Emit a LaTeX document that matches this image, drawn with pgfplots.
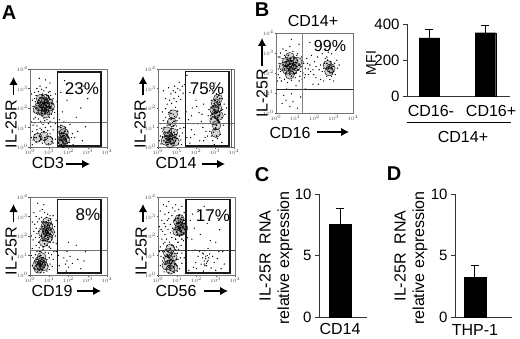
\documentclass[border=0pt]{standalone}
\usepackage{pgfplots}
\pgfplotsset{compat=1.18}
\usepackage{fontspec}
\setmainfont{Liberation Sans}
\usetikzlibrary{arrows.meta}
\newcommand{\fs}[1]{\fontsize{#1}{#1}\selectfont}
\pgfplotsset{
  flow/.style={scale only axis, width=77pt, height=78pt, xmin=0, xmax=100, ymin=0, ymax=100,
    axis line style={black!55, line width=0.7pt}, clip=true,
    xtick={0,25,50,75,100}, ytick={0,25,50,75,100},
    xticklabels={$10^0$,$10^1$,$10^2$,$10^3$,$10^4$},
    yticklabels={$10^0$,$10^1$,$10^2$,$10^3$,$10^4$},
    tick label style={font=\fs{3}, black!70, inner sep=0.6pt},
    tick align=outside, major tick length=1.5pt, tick style={black!70, line width=0.3pt},
    xtick pos=bottom, ytick pos=left},
  sparse/.style={only marks, mark=*, mark size=0.4pt, mark options={draw=none, fill=black!75}, forget plot},
  dense/.style={only marks, mark=*, mark size=0.6pt, mark options={draw=none, fill=black, fill opacity=0.75}, forget plot},
  blob/.style={only marks, mark=*, mark size=4.5pt, mark options={draw=none, fill=black, fill opacity=0.17}, forget plot},
  barax/.style={scale only axis, axis lines=left, axis line style={-, line width=0.6pt, black!80},
    tick align=outside, major tick length=4pt, tick style={line width=0.6pt, black!80},
    ymin=0, clip=false, /pgf/number format/assume math mode=true,
    tick label style={font=\fs{15}}, x tick style={draw=none}, major x tick style={draw=none}},
  thebar/.style={ybar, fill=black, draw=black, error bars/y dir=plus, error bars/y explicit,
    error bars/error bar style={black, line width=1pt}, error bars/error mark options={rotate=90, mark size=4pt, line width=1pt, black}},
}
\tikzset{arr/.style={-{Latex[length=8pt,width=8.5pt]}, line width=1.2pt}, gate/.style={line width=1.1pt, black!90},
  hl/.style={line width=0.6pt, black!55}}
\begin{document}
\begin{tikzpicture}
\path[use as bounding box] (0pt,0pt) rectangle (520pt,338pt);

% ---------- A1 CD3
\begin{axis}[flow, at={(30pt,191pt)}, anchor=south west, width=77pt]
\addplot[blob] coordinates {(12,52)(16,46)(16,58)(20,52)(24,47)(24,57)(20,62)(20,43)(26,52)(14,62)(10,48)(42,8)(43,13)(44,18)(41,22)(46,10)(43,5)(10,12)(18,14)(24,8)};
\addplot[sparse] coordinates {(3,60)(5,45)(6,70)(4,52)(8,66)(7,38)(9,75)(11,71)(13,78)(15,74)(18,72)(21,76)(24,70)(27,66)(29,60)(31,55)(30,48)(28,42)(25,38)(22,35)(18,37)(14,33)(11,36)(6,31)(4,28)(9,27)(13,24)(17,29)(20,25)(24,30)(27,26)(30,22)(3,20)(6,16)(10,18)(14,13)(18,19)(22,14)(26,17)(29,11)(4,9)(8,6)(12,8)(16,5)(20,9)(24,4)(28,7)(3,3)(33,30)(36,26)(38,35)(40,28)(44,32)(46,25)(49,20)(52,29)(55,17)(47,9)(51,6)(54,12)(36,42)(42,45)(48,60)(40,70)(45,85)(58,12)(62,20)(68,8)(72,26)(60,38)(66,50)(75,62)(35,58)(33,68)(26,82)(20,86)(12,88)(70,78)(30,5)(33,10)(39,14)(37,5)(41,3)(56,3)(7,58)(10,42)(16,43)(23,44)(27,52)(24,63)(16,68)(5,36)(2,12)(19,56)(12,60)(8,50)(15,31)(31,37)(2,32)(2,68)(26,33)(38,20)(43,17)(6,12)(9,22)(12,14)(15,22)(19,12)(23,21)(27,13)(6,62)(9,44)(32,44)(30,62)(26,71)(13,41)(19,34)};
\addplot[dense] coordinates {(12,52)(14,58)(15,47)(17,62)(18,54)(19,49)(20,57)(21,63)(22,51)(23,59)(24,46)(25,55)(26,61)(16,43)(10,56)(11,47)(13,63)(20,45)(22,66)(27,50)(18,51)(15,54)(21,53)(19,60)(24,52)(17,56)(14,51)(23,56)(9,50)(28,56)(40,12)(42,8)(44,15)(46,11)(41,18)(43,5)(45,20)(47,7)(39,9)(48,16)(44,10)(42,14)(46,4)(40,25)(50,12)(8,12)(14,10)(18,20)(16,50)(13,55)(20,48)(22,61)(25,50)(17,46)(11,60)(24,65)(19,43)(16,66)};
\end{axis}
% ---------- A2 CD14
\begin{axis}[flow, at={(158pt,191pt)}, anchor=south west, width=76pt]
\addplot[blob] coordinates {(10,8)(14,14)(18,10)(20,18)(12,20)(22,7)(16,5)(18,32)(20,42)(74,34)(76,42)(78,50)(76,56)(79,62)(74,48)(80,40)(77,28)(76,18)};
\addplot[sparse] coordinates {(3,30)(7,34)(10,38)(13,32)(16,36)(19,31)(22,39)(25,34)(28,37)(6,45)(10,49)(14,44)(17,47)(20,42)(23,51)(26,46)(12,55)(15,60)(18,56)(21,62)(24,58)(27,65)(30,61)(17,68)(20,72)(23,70)(26,75)(29,73)(32,78)(33,69)(35,80)(36,64)(22,78)(28,83)(37,45)(40,35)(44,22)(48,16)(52,30)(55,8)(59,25)(62,12)(66,40)(60,55)(50,60)(45,50)(42,70)(56,75)(64,80)(54,44)(38,12)(42,5)(47,30)(58,42)(68,20)(72,8)(74,3)(70,14)(73,19)(76,25)(78,11)(82,16)(84,6)(86,28)(80,31)(72,30)(68,72)(71,78)(75,82)(80,76)(85,70)(87,55)(88,42)(70,60)(67,48)(66,30)(3,14)(2,8)(30,9)(32,18)(34,25)(29,24)(27,4)(31,3)(90,50)(10,62)(7,72)(38,92)(14,76)(26,22)(28,14)(5,24)(4,4)(8,25)(12,28)(24,27)(44,40)(51,52)(43,12)(57,33)(63,20)(60,8)(65,14)(72,72)(83,62)(84,38)(69,40)(85,48)};
\addplot[dense] coordinates {(8,8)(10,14)(12,6)(13,18)(14,10)(15,21)(16,7)(17,14)(18,17)(19,10)(20,5)(21,19)(22,12)(23,8)(24,16)(11,11)(9,19)(15,13)(18,24)(25,11)(6,13)(17,4)(13,3)(20,27)(16,29)(18,36)(21,33)(17,43)(70,36)(72,42)(74,48)(75,38)(76,53)(77,44)(78,58)(79,34)(80,50)(81,41)(82,55)(73,30)(75,60)(78,64)(80,66)(77,28)(83,47)(71,50)(76,46)(79,40)(74,56)(81,62)(75,22)(77,14)(12,14)(19,15)(16,11)(10,6)(22,16)(73,52)(78,36)(77,68)(79,54)(74,44)(81,32)};
\end{axis}
% ---------- A3 CD19
\begin{axis}[flow, at={(30pt,63pt)}, anchor=south west]
\addplot[blob] coordinates {(18,42)(20,50)(22,56)(24,62)(20,62)(24,48)(22,68)(17,54)(26,55)(9,12)(12,18)(14,12)(16,17)(11,8)(15,23)(18,11)};
\addplot[sparse] coordinates {(3,12)(4,22)(3,34)(4,45)(5,56)(3,68)(5,80)(8,75)(10,68)(8,60)(7,48)(8,38)(9,30)(6,8)(6,18)(11,42)(12,35)(13,82)(16,84)(19,80)(23,78)(27,72)(30,76)(32,62)(33,50)(34,40)(31,30)(28,26)(25,22)(23,12)(25,7)(29,11)(22,5)(18,3)(14,3)(10,4)(34,70)(18,90)(10,92)(37,25)(44,22)(46,14)(48,18)(50,10)(52,24)(47,5)(55,15)(62,20)(70,18)(48,30)(60,38)(72,30)(50,42)(66,8)(38,12)(9,53)(12,72)(15,74)(7,26)(30,20)(32,55)(28,45)(29,65)(27,34)(14,30)(20,29)(17,33)(34,30)(6,65)(2,50)(2,25)(12,48)(13,60)(15,68)(11,56)(29,55)(30,42)(26,76)(21,74)(12,30)(24,28)(22,20)(26,14)};
\addplot[dense] coordinates {(15,50)(17,56)(18,44)(19,62)(20,50)(21,68)(22,38)(23,56)(24,46)(25,63)(26,52)(27,58)(22,60)(20,44)(18,53)(24,70)(16,62)(26,42)(28,48)(21,54)(23,48)(25,36)(19,40)(27,66)(17,36)(8,12)(9,20)(10,8)(11,16)(12,24)(13,11)(14,18)(15,7)(16,14)(17,22)(18,10)(19,17)(20,13)(12,6)(10,14)(14,25)(23,64)(20,58)(24,54)(16,44)(18,68)(13,15)(15,20)};
\end{axis}
% ---------- A4 CD56
\begin{axis}[flow, at={(158pt,63pt)}, anchor=south west]
\addplot[blob] coordinates {(25,56)(28,62)(31,66)(30,56)(26,68)(33,60)(28,72)(11,12)(14,20)(17,14)(19,23)(13,28)(20,10)(16,7)(16,34)};
\addplot[sparse] coordinates {(3,12)(4,24)(3,36)(5,46)(4,58)(5,70)(3,82)(7,90)(9,78)(8,66)(9,52)(7,40)(8,30)(11,88)(14,80)(12,70)(13,58)(11,46)(15,42)(18,48)(14,94)(19,86)(23,90)(27,84)(31,88)(34,80)(35,70)(36,54)(33,44)(30,38)(27,33)(24,12)(28,8)(31,15)(25,5)(21,3)(14,3)(8,4)(34,22)(31,28)(37,36)(42,70)(45,78)(47,60)(52,84)(55,72)(60,88)(64,66)(70,80)(78,72)(80,58)(44,46)(55,52)(68,44)(75,42)(84,30)(86,14)(82,8)(40,6)(46,10)(49,16)(52,24)(50,8)(54,30)(56,14)(58,22)(59,5)(61,31)(63,12)(65,19)(67,27)(69,9)(71,24)(73,16)(75,6)(77,21)(79,30)(60,18)(62,24)(64,17)(61,12)(66,22)(58,28)(65,34)(48,32)(38,48)(16,65)(20,36)(24,36)(6,18)(10,14)(30,55)(28,76)(32,66)(37,62)(2,62)(2,30)(6,56)(10,62)(14,72)(18,76)(22,82)(16,54)(19,60)(12,38)(9,42)(6,30)(62,21)(64,25)(60,14)(59,27)(63,15)(26,20)(29,22)(22,28)};
\addplot[dense] coordinates {(22,58)(24,66)(25,52)(26,72)(27,60)(28,50)(29,68)(30,56)(31,74)(32,62)(33,53)(34,66)(23,46)(27,76)(35,58)(30,64)(28,58)(25,62)(33,70)(21,70)(26,42)(31,46)(36,72)(9,14)(10,24)(11,8)(12,18)(13,30)(14,12)(15,22)(16,6)(17,15)(18,27)(19,18)(20,10)(21,24)(22,14)(23,32)(16,34)(12,26)(18,38)(24,20)(25,28)(7,22)(27,66)(29,60)(24,55)(31,52)(15,18)(13,24)(17,20)};
\end{axis}
% ---------- B flow
\begin{axis}[flow, at={(276pt,225pt)}, anchor=south west, height=80pt]
\addplot[blob] coordinates {(10,58)(14,54)(14,64)(18,60)(22,54)(22,65)(26,58)(18,48)(18,70)(28,64)(67,60)(71,56)(69,52)};
\addplot[sparse] coordinates {(3,48)(4,62)(3,55)(5,70)(5,44)(6,75)(7,40)(9,80)(11,42)(13,78)(15,38)(18,83)(20,41)(22,77)(25,44)(28,74)(31,46)(33,70)(35,50)(36,62)(38,56)(40,68)(42,48)(44,60)(46,72)(48,54)(50,64)(52,44)(54,70)(56,78)(58,42)(60,74)(62,40)(64,80)(66,46)(68,76)(70,42)(72,74)(75,40)(77,48)(79,66)(80,56)(82,60)(52,58)(49,48)(45,52)(41,62)(37,44)(34,42)(30,40)(26,34)(14,30)(20,24)(22,14)(18,8)(13,16)(32,20)(38,30)(10,22)(8,12)(28,6)(58,86)(64,90)(44,88)(30,86)(20,92)(3,70)(2,40)(48,36)(55,36)(60,52)(66,70)(73,54)(76,62)(70,50)(63,62)(58,60)(56,54)(33,58)(35,64)(38,48)(42,55)(62,56)(64,68)(72,46)(75,52)(6,52)(8,68)(11,72)(27,72)(32,52)};
\addplot[dense] coordinates {(9,60)(11,55)(12,64)(13,50)(14,58)(15,67)(16,53)(17,61)(18,48)(19,57)(20,65)(21,52)(22,60)(23,69)(24,55)(25,63)(26,50)(27,58)(28,66)(29,54)(30,60)(16,72)(20,46)(18,62)(22,55)(14,64)(24,49)(17,55)(20,58)(66,62)(68,56)(69,52)(70,60)(71,64)(72,56)(73,50)(67,66)(74,58)(69,58)(16,60)(21,62)(12,58)(25,56)(19,68)(23,50)};
\end{axis}

% ---------- gates and gridlines
\draw[hl] (30pt,215.5pt)--(107pt,215.5pt);
\draw[hl] (158pt,215pt)--(234pt,215pt);
\draw[hl] (30pt,88pt)--(107pt,88pt);
\draw[hl,black!75] (158pt,88pt)--(235pt,88pt);
\draw[gate] (57.5pt,266pt) rectangle (101pt,192pt);
\draw[gate] (185.5pt,266.5pt) rectangle (229pt,192pt);
\draw[line width=1.6pt, black!65] (231.5pt,269pt)--(231.5pt,191pt);
\draw[gate] (57.5pt,138.5pt) rectangle (101pt,65pt);
\draw[gate] (186pt,138.5pt) rectangle (230pt,65pt);
\draw[line width=0.7pt, black!85] (276pt,249pt)--(353pt,249pt);
\draw[line width=0.7pt, black!50] (302pt,225pt)--(302pt,305pt);

% ---------- B bars
\begin{axis}[barax, at={(407pt,241.5pt)}, anchor=south west, width=103pt, height=72.5pt,
  ymax=400, ytick={0,200,400}, xmin=-0.396, xmax=1.436, xtick={0.03,1.1}, xticklabels={CD16-,CD16+},
  xticklabel style={font=\fs{16}, yshift=-1.5pt}]
\addplot[bar width=20.5pt, thebar] coordinates {(0,323) +- (0,49) (1,352) +- (0,38)};
\end{axis}
% ---------- C bar
\begin{axis}[barax, at={(319pt,21pt)}, anchor=south west, width=48pt, height=123pt,
  ymax=10, ytick={0,5,10}, xmin=-0.5, xmax=0.64, xtick={0}, xticklabels={CD14},
  xticklabel style={font=\fs{16}, inner sep=0pt, yshift=-2pt}]
\addplot[bar width=22pt, thebar] coordinates {(0,7.55) +- (0,1.25)};
\end{axis}
% ---------- D bar
\begin{axis}[barax, at={(455pt,21pt)}, anchor=south west, width=57pt, height=123pt,
  ymax=10, ytick={0,5,10}, xmin=-0.73, xmax=1.36, xtick={0}, xticklabels={THP-1},
  xticklabel style={font=\fs{16}, inner sep=0pt, yshift=-3pt}]
\addplot[bar width=22pt, thebar] coordinates {(0,3.25) +- (0,0.95)};
\end{axis}

% ---------- text
\node[font=\fs{20}\bfseries] at (9pt,325pt) {A};
\node[font=\fs{20}\bfseries] at (262pt,328pt) {B};
\node[font=\fs{20}\bfseries] at (262pt,163pt) {C};
\node[font=\fs{20}\bfseries] at (394pt,164pt) {D};

\node[font=\fs{16},rotate=90] at (11pt,214pt) {IL-25R};
\draw[arr] (13.5pt,243pt)--(13.5pt,261pt);
\node[font=\fs{16}] at (48pt,175pt) {CD3};
\draw[arr] (66pt,174pt)--(90pt,174pt);
\node[font=\fs{17}] at (82pt,249pt) {23\%};

\node[font=\fs{16},rotate=90] at (140pt,214pt) {IL-25R};
\draw[arr] (143pt,243pt)--(143pt,262pt);
\node[font=\fs{16}] at (176pt,175pt) {CD14};
\draw[arr] (202pt,174pt)--(225pt,174pt);
\node[font=\fs{17}] at (207pt,249pt) {75\%};

\node[font=\fs{16},rotate=90] at (11pt,87pt) {IL-25R};
\draw[arr] (13.5pt,116pt)--(13.5pt,134pt);
\node[font=\fs{16}] at (52pt,47pt) {CD19};
\draw[arr] (77pt,47pt)--(101pt,47pt);
\node[font=\fs{17}] at (88pt,123pt) {8\%};

\node[font=\fs{16},rotate=90] at (141pt,87pt) {IL-25R};
\draw[arr] (143pt,116pt)--(143pt,134pt);
\node[font=\fs{16}] at (176pt,47pt) {CD56};
\draw[arr] (204pt,47pt)--(228pt,47pt);
\node[font=\fs{17}] at (213pt,122pt) {17\%};

\node[font=\fs{16}] at (313pt,317pt) {CD14+};
\node[font=\fs{16},rotate=90] at (262pt,245pt) {IL-25R};
\draw[arr] (262pt,272pt)--(262pt,300pt);
\node[font=\fs{16}] at (290pt,205pt) {CD16};
\draw[arr] (317pt,206pt)--(349pt,206pt);
\node[font=\fs{16}] at (330pt,292pt) {99\%};

\node[font=\fs{14},rotate=90] at (371pt,275pt) {MFI};
\draw[line width=1pt] (407pt,215.3pt)--(511pt,215.3pt);
\node[font=\fs{16}] at (463pt,201pt) {CD14+};

\node[font=\fs{16},rotate=90] at (265pt,82pt) {IL-25R\ \ RNA};
\node[font=\fs{16},rotate=90] at (285pt,80pt) {relative expression};
\node[font=\fs{16},rotate=90] at (400pt,82pt) {IL-25R\ \ RNA};
\node[font=\fs{16},rotate=90] at (420pt,80pt) {relative expression};
\end{tikzpicture}
\end{document}
